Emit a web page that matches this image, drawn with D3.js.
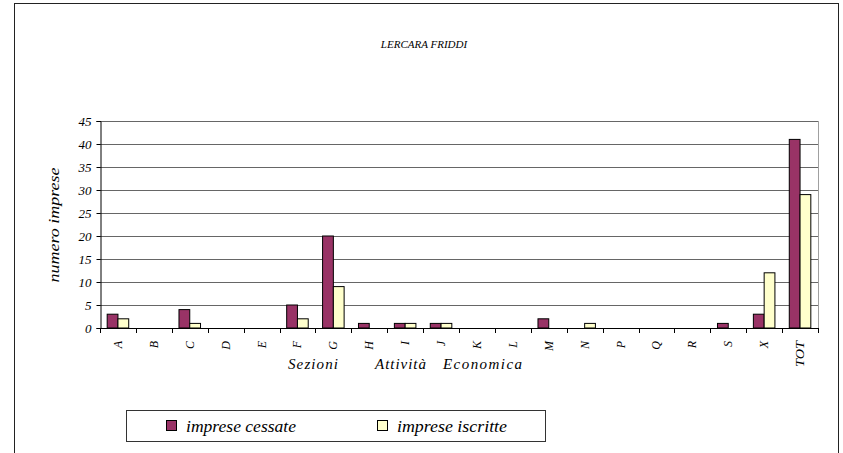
<!DOCTYPE html>
<html>
    <head>
        <meta charset="utf-8">
        <title>Lercara Friddi</title>
        <script src="https://d3js.org/d3.v7.min.js"></script>
    </head>
    <body style="margin:0; background:white;">
        <svg width="843" height="453"></svg>
        <script type="text/javascript">

            // data
            const sezioni = ["A","B","C","D","E","F","G","H","I","J","K","L","M","N","P","Q","R","S","X","TOT"];
            const cessate = [3,0,4,0,0,5,20,1,1,1,0,0,2,0,0,0,0,1,3,41];
            const iscritte = [2,0,1,0,0,2,9,0,1,1,0,0,0,1,0,0,0,0,12,29];
            const serie = ["imprese cessate","imprese iscritte"];
            const yTicks = [0,5,10,15,20,25,30,35,40,45];

            const colori = d3.scaleOrdinal(serie, ["#993366","#FFFFCC"]);
            const FONT = "Liberation Serif";

            const svg = d3.select("svg");
            const pLeft = 100, pRight = 818, pTop = 121, pBottom = 328;

            // small helper so every label gets the serif italic
            function testo(sel){
                return sel.attr("font-family", FONT)
                          .attr("font-style", "italic")
                          .attr("fill", "black");
            }

            //outer frame
            svg.append("rect")
               .attr("x", 14.5).attr("y", 3.5)
               .attr("width", 824).attr("height", 460)
               .attr("fill", "none")
               .attr("stroke", "#222");

            svg.append("text")
               .attr("x", 424).attr("y", 48)
               .attr("text-anchor", "middle")
               .attr("font-size", 11)
               .call(testo)
               .text("LERCARA FRIDDI");

            const x0 = d3.scaleBand().domain(sezioni).range([pLeft, pRight]);
            const x1 = d3.scaleBand().domain(serie)
                         .range([x0.bandwidth()*0.2, x0.bandwidth()*0.8]);
            const y = d3.scaleLinear().domain([0,45]).range([pBottom, pTop]);

            //grid lines
            svg.append("g").selectAll("line")
               .data(yTicks.filter(d => d > 0))
               .enter()
               .append("line")
               .attr("x1", pLeft).attr("x2", pRight)
               .attr("y1", d => Math.round(y(d)) + 0.5)
               .attr("y2", d => Math.round(y(d)) + 0.5)
               .attr("stroke", "#666");

            //right border of plot
            svg.append("line")
               .attr("x1", pRight + 0.5).attr("x2", pRight + 0.5)
               .attr("y1", pTop).attr("y2", pBottom)
               .attr("stroke", "#a0a0a0");

            //bars
            const rows = sezioni.map((s,i) => ({sez: s, vals: [cessate[i], iscritte[i]]}));
            const gruppi = svg.append("g").selectAll("g")
                              .data(rows)
                              .enter()
                              .append("g")
                              .attr("transform", d => `translate(${x0(d.sez)},0)`);

            gruppi.selectAll("rect")
                  .data(d => d.vals.map((v,k) => ({serie: serie[k], v: v})).filter(e => e.v > 0))
                  .enter()
                  .append("rect")
                  .attr("x", d => x1(d.serie))
                  .attr("y", d => y(d.v))
                  .attr("width", x1.bandwidth())
                  .attr("height", d => y(0) - y(d.v))
                  .attr("fill", d => colori(d.serie))
                  .attr("stroke", "black")
                  .attr("stroke-width", 1);

            //y axis
            const yAxis = svg.append("g")
                             .attr("transform", `translate(${pLeft + 0.5},0)`)
                             .call(d3.axisLeft(y).tickValues(yTicks).tickSize(4).tickPadding(5));
            yAxis.attr("font-family", null);
            yAxis.select(".domain").attr("stroke", "black");
            yAxis.selectAll("line").attr("stroke", "black");
            yAxis.selectAll("text")
                 .call(testo)
                 .attr("font-size", 13);

            //x axis line + ticks at category boundaries
            svg.append("line")
               .attr("x1", pLeft).attr("x2", pRight + 1)
               .attr("y1", pBottom + 0.5).attr("y2", pBottom + 0.5)
               .attr("stroke", "black");

            const bordi = sezioni.map(s => x0(s)).concat([pRight]);
            svg.append("g").selectAll("line")
               .data(bordi)
               .enter()
               .append("line")
               .attr("x1", d => Math.round(d) + 0.5).attr("x2", d => Math.round(d) + 0.5)
               .attr("y1", pBottom).attr("y2", pBottom + 5)
               .attr("stroke", "black");

            //category labels, rotated
            const etichette = svg.append("g").selectAll("text")
               .data(sezioni)
               .enter()
               .append("text")
               .attr("transform", d => `translate(${x0(d) + x0.bandwidth()/2 + 4},341) rotate(-90)`)
               .attr("text-anchor", "end")
               .attr("font-size", 12)
               .call(testo)
               .text(d => d);
            etichette.filter(d => d.length > 1)
                     .attr("textLength", 26)
                     .attr("lengthAdjust", "spacingAndGlyphs");

            //axis titles
            const titoloX = svg.append("text")
                               .attr("y", 369)
                               .attr("font-size", 15)
                               .call(testo);
            titoloX.append("tspan").attr("x", 288).attr("textLength", 50).text("Sezioni");
            titoloX.append("tspan").attr("x", 375).attr("textLength", 51).text("Attività");
            titoloX.append("tspan").attr("x", 443).attr("textLength", 79).text("Economica");

            svg.append("text")
               .attr("transform", "translate(59,225) rotate(-90)")
               .attr("text-anchor", "middle")
               .attr("font-size", 15)
               .attr("textLength", 115)
               .attr("lengthAdjust", "spacingAndGlyphs")
               .call(testo)
               .text("numero imprese");

            //legend
            svg.append("rect")
               .attr("x", 126.5).attr("y", 410.5)
               .attr("width", 419).attr("height", 31)
               .attr("fill", "white")
               .attr("stroke", "#333");

            const voci = svg.append("g").selectAll("g")
                            .data(serie)
                            .enter()
                            .append("g")
                            .attr("transform", (d,i) => `translate(${i === 0 ? 166 : 377},420)`);
            voci.append("rect")
                .attr("x", 0.5).attr("y", 0.5)
                .attr("width", 10).attr("height", 10)
                .attr("fill", d => colori(d))
                .attr("stroke", "black");
            voci.append("text")
                .attr("x", 20).attr("y", 12)
                .attr("font-size", 16)
                .attr("textLength", 110)
                .attr("lengthAdjust", "spacingAndGlyphs")
                .call(testo)
                .text(d => d);

        </script>
    </body>
</html>
